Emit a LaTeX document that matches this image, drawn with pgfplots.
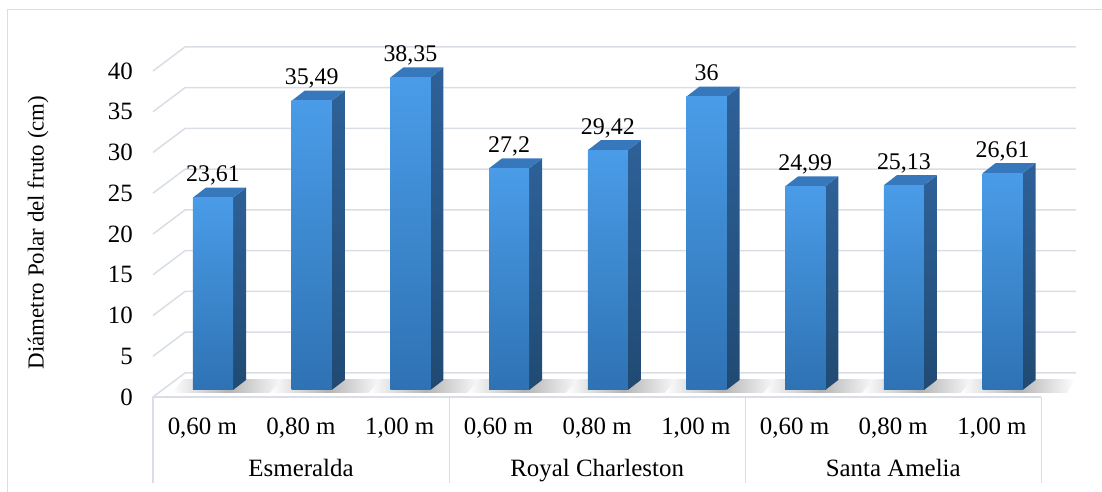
\documentclass[border=0pt]{standalone}
\usepackage{pgfplots}
\pgfplotsset{compat=1.18}
\usepackage{fontspec}
\setmainfont{Liberation Serif}
\definecolor{gridc}{HTML}{D9DEE6}
\definecolor{fronttop}{HTML}{4A9CE8}
\definecolor{frontbot}{HTML}{2E72B3}
\definecolor{sidetop}{HTML}{2E6199}
\definecolor{sidebot}{HTML}{204A72}
\definecolor{topc}{HTML}{3778BD}
\definecolor{shadowc}{HTML}{B4B4B4}

% geometry (axis units): category width 1, y in data units
\def\bdx{0.132}\def\bdy{1.23}\def\bbase{0.86}
\newcommand\gridline[1]{%
  \pgfmathsetmacro\ga{#1+2.945}%
  \edef\tmp{\noexpand\addplot[draw=gridc, line width=1.5bp] coordinates {(0,#1) (0.324,\ga) (9.35,\ga)};}\tmp}
\newcommand\threedbar[2]{%
  \pgfmathsetmacro\xl{#1+0.405}%
  \pgfmathsetmacro\xr{#1+0.811}%
  \pgfmathsetmacro\xlr{\xl+\bdx}%
  \pgfmathsetmacro\xrr{\xr+\bdx}%
  \pgfmathsetmacro\yb{\bbase}%
  \pgfmathsetmacro\ybb{\bbase+\bdy}%
  \pgfmathsetmacro\yt{\bbase+#2}%
  \pgfmathsetmacro\ytt{\bbase+#2+\bdy}%
  \pgfmathsetmacro\sxa{\xl-0.22}%
  \pgfmathsetmacro\sxb{\xrr+0.32}%
  \pgfmathsetmacro\sxc{\xrr+0.40}%
  \pgfmathsetmacro\sxd{\xl-0.10}%
  \edef\tmp{%
    \noexpand\addplot[draw=none, left color=white, right color=white, middle color=shadowc] coordinates {(\sxa,0.5) (\sxb,0.5) (\sxc,2.2) (\sxd,2.2)} -- cycle;
    \noexpand\addplot[draw=none, top color=sidetop, bottom color=sidebot] coordinates {(\xr,\yb) (\xrr,\ybb) (\xrr,\ytt) (\xr,\yt)} -- cycle;
    \noexpand\addplot[draw=none, fill=topc] coordinates {(\xl,\yt) (\xr,\yt) (\xrr,\ytt) (\xlr,\ytt)} -- cycle;
    \noexpand\addplot[draw=none, top color=fronttop, bottom color=frontbot] coordinates {(\xl,\yb) (\xr,\yb) (\xr,\yt) (\xl,\yt)} -- cycle;
  }\tmp}

\begin{document}
\begin{tikzpicture}
\path[use as bounding box] (0,0) rectangle (1102bp,492bp);
\draw[gridc, line width=1bp] (7bp,0) -- (7bp,482bp) -- (1102bp,482bp);
\begin{axis}[
  at={(153bp,95bp)}, anchor=south west,
  x=98.7bp, y=8.15bp,
  xmin=0, xmax=9.35, ymin=0, ymax=43,
  clip=false,
  axis line style={draw=none},
  tick style={draw=none},
  xtick=\empty,
  ytick={0,5,...,40},
  /pgf/number format/assume math mode=true,
  yticklabel style={font=\fontsize{25}{29}\selectfont, inner sep=0pt, anchor=east, xshift=-20bp},
  ylabel={Diámetro Polar del fruto (cm)},
  ylabel style={font=\fontsize{23}{27}\selectfont, at={(axis cs:-1.165,20.2)}, anchor=center, rotate=0},
  every node near coord/.style={font=\fontsize{24}{28}\selectfont, anchor=base, inner sep=0pt, black},
]
% back walls / gridlines
\gridline{0}\gridline{5}\gridline{10}\gridline{15}\gridline{20}
\gridline{25}\gridline{30}\gridline{35}\gridline{40}
% floor front edge
\addplot[draw=gridc, line width=1.2bp] coordinates {(0,0) (9,0)};
% category axis separators
\addplot[draw=gridc, line width=1.2bp] coordinates {(0,0) (0,-10.55)};
\addplot[draw=gridc, line width=1.2bp] coordinates {(3,0) (3,-10.55)};
\addplot[draw=gridc, line width=1.2bp] coordinates {(6,0) (6,-10.55)};
\addplot[draw=gridc, line width=1.2bp] coordinates {(9,0) (9,-10.55)};
% bars
\threedbar{0}{23.61}
\threedbar{1}{35.49}
\threedbar{2}{38.35}
\threedbar{3}{27.2}
\threedbar{4}{29.42}
\threedbar{5}{36}
\threedbar{6}{24.99}
\threedbar{7}{25.13}
\threedbar{8}{26.61}
% data labels
\addplot[draw=none, mark=none, nodes near coords, point meta=explicit symbolic]
  coordinates {
  (0.608,26.43) [23,61]
  (1.608,38.31) [35,49]
  (2.608,41.17) [38,35]
  (3.608,30.02) [27,2]
  (4.608,32.24) [29,42]
  (5.608,38.82) [36]
  (6.608,27.81) [24,99]
  (7.608,27.95) [25,13]
  (8.608,29.43) [26,61]
  };
% category labels
\addplot[draw=none, mark=none, nodes near coords, point meta=explicit symbolic,
  every node near coord/.append style={font=\fontsize{25}{29}\selectfont}]
  coordinates {
  (0.5,-4.55) [0,60 m] (1.5,-4.55) [0,80 m] (2.5,-4.55) [1,00 m]
  (3.5,-4.55) [0,60 m] (4.5,-4.55) [0,80 m] (5.5,-4.55) [1,00 m]
  (6.5,-4.55) [0,60 m] (7.5,-4.55) [0,80 m] (8.5,-4.55) [1,00 m]
  (1.5,-9.7) [Esmeralda] (4.5,-9.7) [Royal Charleston] (7.5,-9.7) [Santa Amelia]
  };
\end{axis}
\end{tikzpicture}
\end{document}
